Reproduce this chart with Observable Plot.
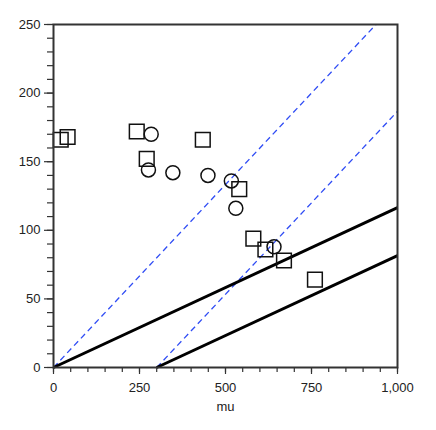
<!DOCTYPE html>
<html>
<head>
<meta charset="utf-8">
<script src="https://cdn.jsdelivr.net/npm/d3@7"></script>
<script src="https://cdn.jsdelivr.net/npm/@observablehq/plot@0.6"></script>
<style>
  html, body { margin: 0; padding: 0; background: #fff; }
  #chart svg { display: block; }
</style>
</head>
<body>
<div id="chart"></div>
<script>
// Data
const squaresX = [21, 41, 242, 271, 434, 540, 581, 616, 670, 760];
const squaresY = [166, 168, 172, 152, 166, 130, 94, 86, 78, 64];
const circlesX = [284, 276, 347, 449, 517, 530, 641];
const circlesY = [170, 144, 142, 140, 136, 116, 88];

// Reference lines: [x0, y0, x1, y1]
const blueLines = [
  [0, 0, 937.5, 250],
  [300, 0, 1000, 186.7]
];
const blackLines = [
  [0, 0, 1000, 116.5],
  [300, 0, 1000, 81.5]
];

const xMajor = [0, 250, 500, 750, 1000];
const xMinor = d3.range(0, 1001, 50);
const yMajor = [0, 50, 100, 150, 200, 250];
const yMinor = d3.range(0, 251, 10);
const xTitle = "mu";

const squares = squaresX.map((x, i) => ({x, y: squaresY[i]}));
const circles = circlesX.map((x, i) => ({x, y: circlesY[i]}));
const toSeg = (l) => ({x1: l[0], y1: l[1], x2: l[2], y2: l[3]});

const ink = "#333";
const blank = () => "";

const chart = Plot.plot({
  width: 436,
  height: 430,
  marginTop: 24,
  marginBottom: 63,
  marginLeft: 53,
  marginRight: 39,
  style: {fontFamily: "'Liberation Sans', Arial, sans-serif", fontSize: "13px", color: ink, background: "#fff"},
  x: {domain: [0, 1000]},
  y: {domain: [0, 250]},
  marks: [
    Plot.axisX({ticks: xMinor, tickSize: 5, tickFormat: blank, label: null, stroke: ink, strokeWidth: 1.2}),
    Plot.axisX({ticks: xMajor, tickSize: 7, tickFormat: d3.format(","), tickPadding: 8, label: null, stroke: ink, strokeWidth: 1.2, fill: "#222"}),
    Plot.axisY({ticks: yMinor, tickSize: 6, tickFormat: blank, label: null, stroke: ink, strokeWidth: 1.2}),
    Plot.axisY({ticks: yMajor, tickSize: 9, tickPadding: 4, tickFormat: d3.format(","), label: null, stroke: ink, strokeWidth: 1.2, fill: "#222"}),
    Plot.text([xTitle], {frameAnchor: "bottom", dy: 43, fill: "#222", fontSize: 13}),
    Plot.link(blueLines.map(toSeg), {x1: "x1", y1: "y1", x2: "x2", y2: "y2", stroke: "#2f4cf5", strokeWidth: 1.3, strokeDasharray: "6,4"}),
    Plot.link(blackLines.map(toSeg), {x1: "x1", y1: "y1", x2: "x2", y2: "y2", stroke: "#000", strokeWidth: 3}),
    Plot.dot(squares, {x: "x", y: "y", symbol: "square", r: 8.3, stroke: "#111", strokeWidth: 1.5, fill: "none"}),
    Plot.dot(circles, {x: "x", y: "y", symbol: "circle", r: 7, stroke: "#111", strokeWidth: 1.5, fill: "none"}),
    Plot.frame({stroke: ink, strokeWidth: 2})
  ]
});
document.getElementById("chart").appendChild(chart);
</script>
</body>
</html>
